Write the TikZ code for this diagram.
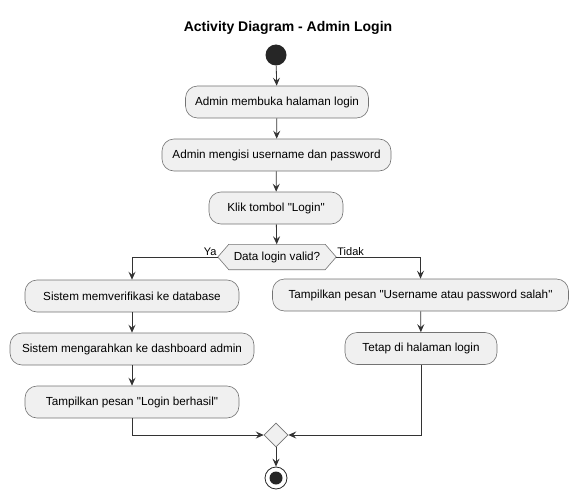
\documentclass[tikz,border=0pt]{standalone}
\usepackage{fontspec}
\setmainfont{Liberation Sans}[Ligatures=TeXOff]
\usetikzlibrary{arrows.meta, shapes.geometric, backgrounds}

\begin{document}
\begin{tikzpicture}[x=1pt, y=-1pt,
    font=\fontsize{11.7}{14}\selectfont,
    action/.style={draw=black!55, fill=black!6, line width=0.6pt, rounded corners=12pt,
      minimum height=32pt, inner xsep=0pt},
    flow/.style={draw=black!80, line width=0.8pt, -{Stealth[length=8pt, width=7pt, inset=3pt]}},
    branch/.style={font=\fontsize{11}{13}\selectfont, inner sep=1pt}]
  \useasboundingbox (0,0) rectangle (580,500);

  \node[font=\bfseries\fontsize{14}{16}\selectfont] (title) at (288,28) {Activity Diagram - Admin Login};
  \node[circle, fill=black!85, minimum size=21pt, inner sep=0pt] (start) at (276,55) {};

  % main flow
  \node[action, minimum width=183pt] (open) at (277,102) {Admin membuka halaman login};
  \node[action, minimum width=229pt] (fill) at (276.5,155) {Admin mengisi username dan password};
  \node[action, minimum width=134pt] (click) at (276,208) {Klik tombol "Login"};

  % decision
  \node[minimum width=96pt, minimum height=25pt, inner sep=0pt] (check) at (277,257) {Data login valid?};
  \begin{scope}[on background layer]
    \draw[draw=black!55, fill=black!6, line width=0.6pt]
      (check.north west) -- (check.north east) -- ([xshift=11pt]check.east)
      -- (check.south east) -- (check.south west) -- ([xshift=-11pt]check.west) -- cycle;
  \end{scope}
  \node[branch, anchor=south east] (yes) at ([xshift=-11pt]check.west) {Ya};
  \node[branch, anchor=south west] (no) at ([xshift=11pt]check.east) {Tidak};

  % left branch
  \node[action, minimum width=214pt] (verify) at (132,296) {Sistem memverifikasi ke database};
  \node[action, minimum width=244pt] (redirect) at (132,349) {Sistem mengarahkan ke dashboard admin};
  \node[action, minimum width=214pt] (success) at (132,402) {Tampilkan pesan "Login berhasil"};

  % right branch
  \node[action, minimum width=296pt] (error) at (420.5,295) {Tampilkan pesan "Username atau password salah"};
  \node[action, minimum width=152pt] (stay) at (421,348.5) {Tetap di halaman login};

  % merge and end
  \node[diamond, draw=black!55, fill=black!6, line width=0.6pt, minimum size=24pt, inner sep=0pt] (merge) at (276,435) {};
  \node[circle, draw=black!85, line width=0.8pt, minimum size=22pt, inner sep=0pt] (stop) at (276,478) {};
  \node[circle, fill=black!85, minimum size=13pt, inner sep=0pt] (stopdot) at (stop) {};

  \draw[flow] (start) -- (open);
  \draw[flow] (open) -- (fill);
  \draw[flow] (fill) -- (click);
  \draw[flow] (click) -- (check);
  \draw[flow] ([xshift=-11pt]check.west) -| (verify);
  \draw[flow] ([xshift=11pt]check.east) -| (error);
  \draw[flow] (verify) -- (redirect);
  \draw[flow] (redirect) -- (success);
  \draw[flow] (error) -- (stay);
  \draw[flow] (success) |- (merge);
  \draw[flow] (stay) |- (merge);
  \draw[flow] (merge) -- (stop);
\end{tikzpicture}
\end{document}
